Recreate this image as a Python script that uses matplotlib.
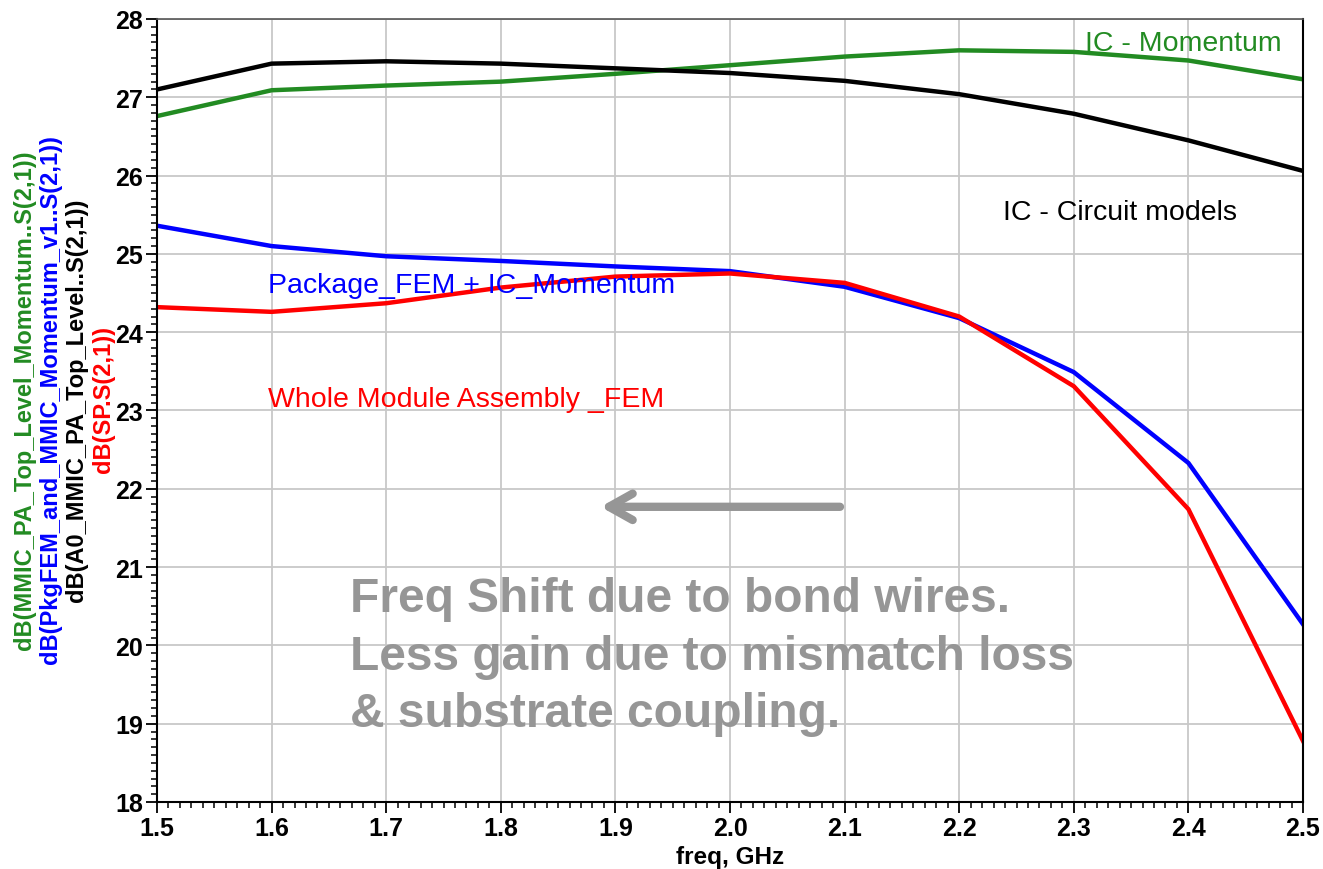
import matplotlib
matplotlib.use('Agg')
import matplotlib.pyplot as plt
from matplotlib.ticker import MultipleLocator

plt.rcParams['font.family'] = ['Liberation Sans', 'DejaVu Sans']

# frequency points (GHz)
freq = [1.5, 1.6, 1.7, 1.8, 1.9, 2.0, 2.1, 2.2, 2.3, 2.4, 2.5]

# dB(S21)
ic_momentum = [26.76, 27.09, 27.15, 27.20, 27.30, 27.41, 27.52, 27.60, 27.58, 27.47, 27.23]
ic_circuit = [27.10, 27.43, 27.46, 27.43, 27.37, 27.31, 27.21, 27.04, 26.79, 26.45, 26.06]
pkg_fem = [25.36, 25.10, 24.97, 24.91, 24.84, 24.78, 24.58, 24.18, 23.49, 22.33, 20.27]
whole_fem = [24.32, 24.26, 24.37, 24.57, 24.71, 24.75, 24.63, 24.20, 23.31, 21.74, 18.78]

green = '#228b22'
gray = '#969696'

fig = plt.figure(figsize=(13.23, 8.70), dpi=100)
ax = fig.add_axes([157/1323, 67/870, 1146/1323, 783/870])

ax.plot(freq, ic_momentum, color=green, lw=3.2)
ax.plot(freq, ic_circuit, color='black', lw=3.2)
ax.plot(freq, pkg_fem, color='#0000ff', lw=3.2)
ax.plot(freq, whole_fem, color='#ff0000', lw=3.2)

ax.set_xlim(1.5, 2.5)
ax.set_ylim(18, 28)
ax.xaxis.set_minor_locator(MultipleLocator(0.01))
ax.yaxis.set_major_locator(MultipleLocator(1))
ax.yaxis.set_minor_locator(MultipleLocator(0.1))
ax.set_xticks(freq)
ax.set_xticklabels(['%.1f' % f for f in freq])
ax.grid(True, which='major', color='#c8c8c8', lw=1.3)
ax.tick_params(which='major', direction='out', length=8, width=1.3, labelsize=18, pad=2)
ax.tick_params(which='minor', direction='out', length=4, width=1.1)
for lab in ax.get_xticklabels() + ax.get_yticklabels():
    lab.set_fontweight('bold')
for s in ['left', 'bottom', 'right']:
    ax.spines[s].set_linewidth(1.5)
    ax.spines[s].set_color('black')
ax.spines['top'].set_color('#555555')
ax.spines['top'].set_linewidth(1.2)
ax.set_axisbelow(True)

ax.set_xlabel('freq, GHz', fontsize=17.5, fontweight='bold', labelpad=4)

# y label: four stacked rotated lines
ylabels = ['dB(MMIC_PA_Top_Level_Momentum..S(2,1))',
           'dB(PkgFEM_and_MMIC_Momentum_v1..S(2,1))',
           'dB(A0_MMIC_PA_Top_Level..S(2,1))',
           'dB(SP.S(2,1))']
ycolors = [green, '#0000ff', 'black', '#ff0000']
for i, (t, c) in enumerate(zip(ylabels, ycolors)):
    fig.text((25 + 26*i)/1323, 1 - 400/870, t, color=c, rotation=90,
             fontsize=17, fontweight='bold', ha='center', va='center')

# curve labels
ax.text(2.31, 27.60, 'IC - Momentum', color=green, fontsize=20.5)
ax.text(2.238, 25.45, 'IC - Circuit models', color='black', fontsize=20.5)
ax.text(1.597, 24.51, 'Package_FEM + IC_Momentum', color='#0000ff', fontsize=20.5)
ax.text(1.597, 23.06, 'Whole Module Assembly _FEM', color='#ff0000', fontsize=20.5)

# comment text and arrow
notes = ['Freq Shift due to bond wires.',
         'Less gain due to mismatch loss',
         '& substrate coupling.']
for t, yb in zip(notes, [20.44, 19.70, 18.97]):
    ax.text(1.668, yb, t, color=gray, fontsize=34.5, fontweight='bold')

ax.annotate('', xy=(1.887, 21.77), xytext=(2.096, 21.77),
            arrowprops=dict(arrowstyle='->,head_length=1.7,head_width=0.95',
                            color=gray, lw=6, capstyle='round',
                            joinstyle='round', shrinkA=0, shrinkB=0))

fig.savefig('out.png', dpi=100)
